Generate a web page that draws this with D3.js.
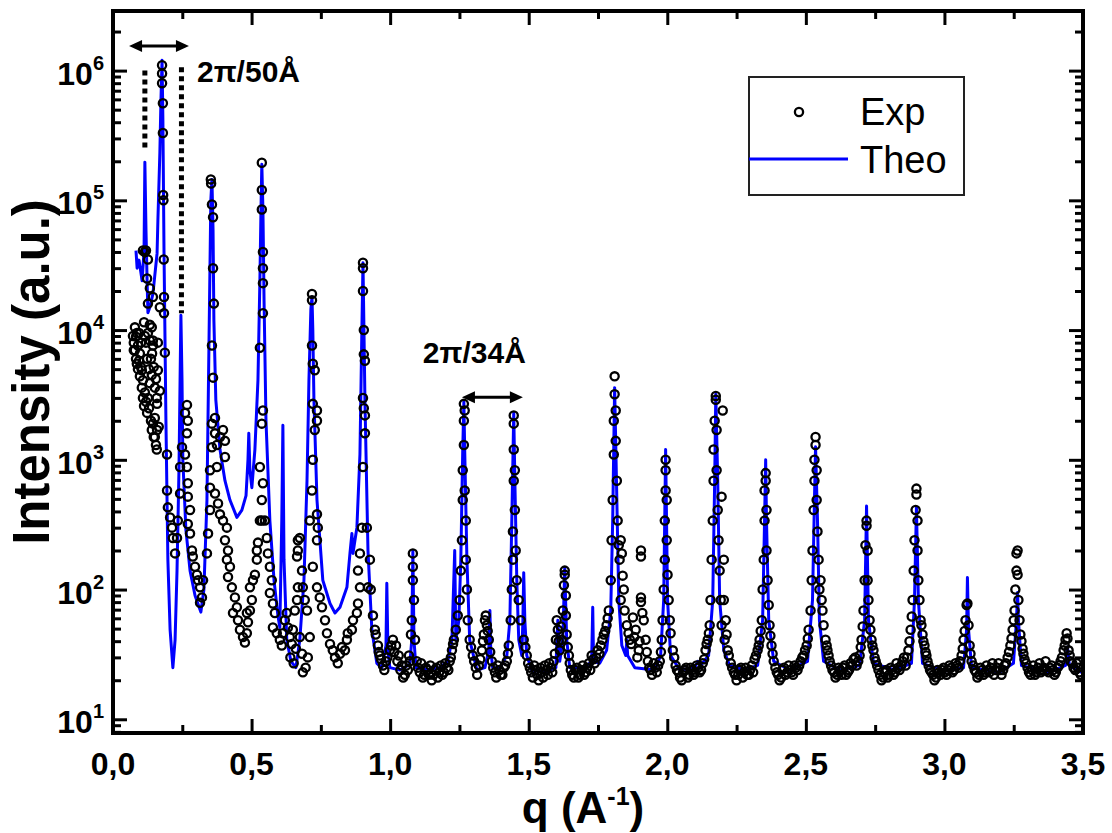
<!DOCTYPE html>
<html><head><meta charset="utf-8">
<script src="https://cdn.jsdelivr.net/npm/d3@7"></script>
<style>body{margin:0;background:#fff}svg{display:block}</style>
</head><body>
<svg id="c" width="1112" height="833"></svg>
<script>
// ---------- data ----------
const xTickValues = [0, 0.5, 1, 1.5, 2, 2.5, 3, 3.5];
const xTickLabels = ["0,0", "0,5", "1,0", "1,5", "2,0", "2,5", "3,0", "3,5"];
const xMinorTicks = [0.25, 0.75, 1.25, 1.75, 2.25, 2.75, 3.25];
const yDecadeExponents = [1, 2, 3, 4, 5, 6];
const yMinorMultipliers = [2, 3, 4, 5, 6, 7, 8, 9];
const seriesNames = ["Exp", "Theo"];
const axisTitles = { x: "q (A", xSup: "-1", xEnd: ")", y: "Intensity (a.u.)" };
const annotationTexts = ["2\u03c0/50\u00c5", "2\u03c0/34\u00c5"];

// experimental points [q, intensity]
const expData = [
[0.072,9000],[0.075,7000],[0.079,10500],[0.083,8900],[0.086,5500],[0.090,7600],[0.094,9500],[0.097,6600],[0.101,8000],[0.104,4900],[0.108,4100],[0.112,11500],
[0.133,11000],[0.144,8300],[0.133,8300],[0.144,7600],[0.162,8000],[0.141,6600],[0.162,4900],[0.133,3900],[0.151,3600],[0.169,3400],[0.159,2700],[0.151,2100],
[0.144,1900],[0.159,1700],[0.151,1500],[0.119,41000],[0.126,35000],[0.123,25000],[0.133,21000],[0.126,16000],[0.144,18000],[0.169,15000],[0.108,41000],[0.115,40000],
[0.075,8000],[0.079,7000],[0.083,6000],[0.086,9500],[0.090,5000],[0.094,5800],[0.097,4400],[0.101,5200],[0.104,3600],[0.108,3000],[0.112,2600],[0.115,3300],
[0.119,2800],[0.123,2300],[0.126,3000],[0.130,2500],[0.137,2000],[0.140,1700],[0.147,1500],[0.155,1300],[0.158,1200],[0.165,1800],[0.137,6000],[0.140,4500],
[0.147,5200],[0.155,4200],[0.158,3000],[0.130,5000],[0.123,6000],[0.119,8000],[0.115,9000],[0.126,9500],[0.140,10500],
[0.177,1100000],[0.177,950000],[0.177,800000],[0.180,560000],[0.180,330000],[0.181,110000],[0.182,100000],[0.183,35000],[0.184,18000],[0.184,13500],
[0.187,6700],[0.195,1100],[0.195,580],[0.198,430],[0.206,360],[0.213,300],[0.216,250],[0.224,190],[0.231,250],[0.234,340],[0.242,550],[0.242,880],[0.249,1250],
[0.260,2300],[0.267,2650],[0.270,2000],[0.267,1600],[0.260,1100],[0.267,880],[0.270,660],[0.270,520],[0.278,410],[0.270,320],[0.278,270],[0.285,200],[0.288,180],
[0.296,150],[0.303,130],[0.307,118],[0.314,104],[0.321,87],[0.314,79],[0.325,118],[0.339,190],[0.343,270],[0.350,410],[0.350,610],[0.350,830],[0.357,1250],
[0.357,1900],[0.361,4300],[0.357,7600],[0.353,145000],[0.354,135000],[0.357,93000],[0.361,74000],[0.361,30000],[0.364,16000],
[0.368,2100],[0.368,1600],[0.375,1300],[0.386,1500],[0.397,1700],[0.404,1400],[0.404,1050],[0.375,880],[0.368,550],[0.379,460],[0.386,380],[0.397,340],[0.411,300],
[0.404,240],[0.415,200],[0.411,170],[0.422,150],[0.415,125],[0.429,104],[0.440,87],[0.447,73],[0.433,66],[0.451,58],[0.458,49],[0.469,43],[0.476,39],[0.483,46],
[0.487,56],[0.483,66],[0.494,69],[0.501,83],[0.494,104],[0.505,118],[0.512,130],[0.519,170],[0.519,200],[0.523,230],[0.530,340],[0.537,490],
[0.530,7300],[0.541,2400],[0.537,1900],[0.530,880],[0.541,660],[0.537,340],[0.548,340],
[0.537,195000],[0.537,120000],[0.537,85000],[0.541,40000],[0.541,30000],[0.541,23000],[0.541,13500],
[0.555,250],[0.559,190],[0.566,150],[0.573,118],[0.566,94],[0.577,78],[0.584,66],[0.577,51],[0.591,46],[0.602,41],[0.609,37],[0.613,46],[0.620,58],[0.627,66],
[0.631,51],[0.638,43],[0.645,38],[0.649,49],[0.656,69],[0.664,83],[0.667,104],[0.664,180],[0.667,240],[0.674,250],[0.667,200],[0.682,140],[0.685,104],[0.692,83],
[0.700,69],[0.674,43],[0.682,32],[0.685,23],[0.703,30],[0.710,43],[0.640,30],[0.652,27],[0.695,25],[0.660,35],
[0.718,19000],[0.718,17000],[0.718,7600],[0.721,5500],[0.728,4900],[0.721,2700],[0.736,2400],[0.736,2000],[0.728,1700],[0.721,1000],[0.718,580],[0.710,340],
[0.736,380],[0.739,300],[0.736,240],[0.721,150],[0.736,104],[0.746,87],[0.754,73],[0.765,58],[0.772,46],[0.783,38],[0.793,34],[0.801,30],[0.811,27],[0.819,32],
[0.826,36],[0.837,34],[0.844,41],[0.847,46],[0.862,49],[0.866,58],[0.880,66],[0.884,78],[0.891,104],[0.884,140],[0.891,190],[0.898,300],[0.902,880],[0.909,1600],
[0.909,2200],[0.902,3000],[0.909,5800],[0.916,300],[0.920,104],
[0.902,33000],[0.902,30000],[0.902,20000],[0.905,10000],[0.905,6500],[0.905,2500],
[0.927,170],[0.930,100],[0.938,63],[0.945,49],[0.956,37],[0.963,31],[0.974,26],[0.985,28],[0.999,34],[1.010,41],[1.021,37],[1.031,31],[1.042,26],[1.053,22],
[1.064,24],[1.071,28],[1.082,190],[1.082,150],[1.082,118],[1.086,83],[1.078,58],[1.090,41],[1.096,28],[1.107,23],[1.118,21],[1.129,25],[1.140,22],[1.150,20],
[1.161,24],[1.172,21],[1.183,26],[1.194,23],[1.204,25],[1.215,28],[1.223,34],[1.230,41],[1.237,49],[1.244,63],[1.251,83],[1.255,140],[1.259,240],[1.262,490],
[1.262,830],[1.266,1300],[1.266,2000],[1.266,2700],[1.269,2400],[1.269,580],[1.273,340],[1.273,170],[1.277,100],[1.280,58],[1.287,41],[1.298,31],[1.309,25],
[1.320,26],[1.331,34],[1.338,45],[1.345,63],[1.349,53],[1.356,41],[1.367,28],[1.378,23],[1.388,26],[1.399,22],[1.410,25],[1.421,28],[1.428,37],[1.435,58],
[1.439,100],[1.443,170],[1.443,280],[1.446,690],[1.446,1200],[1.446,1900],[1.446,2200],[1.450,830],[1.450,410],[1.453,200],[1.457,118],[1.464,83],[1.471,58],
[1.482,41],[1.493,31],
[1.504,25],[1.515,21],[1.525,24],[1.536,20],[1.547,23],[1.558,26],[1.569,22],[1.580,25],[1.590,28],[1.598,41],[1.601,58],[1.605,49],[1.612,34],[1.619,41],
[1.623,69],[1.627,108],[1.630,140],[1.630,130],[1.634,90],[1.634,63],[1.637,45],[1.645,31],[1.652,24],[1.663,21],[1.674,25],[1.684,22],[1.695,26],[1.706,23],
[1.717,27],[1.727,31],[1.738,27],[1.749,34],[1.760,37],[1.771,45],[1.781,53],[1.789,69],[1.796,118],[1.799,240],[1.803,490],[1.807,1100],[1.807,2000],
[1.810,3200],[1.810,4400],[1.814,2400],[1.814,1400],[1.818,690],[1.821,340],[1.825,220],[1.828,170],[1.832,240],[1.836,190],[1.839,128],[1.843,100],[1.832,83],
[1.846,69],[1.854,53],[1.865,41],[1.876,61],[1.886,49],[1.897,34],[1.905,200],[1.905,180],[1.905,87],[1.905,80],[1.915,58],[1.922,41],[1.930,28],[1.940,24],
[1.951,27],[1.962,23],[1.973,28],[1.980,41],[1.983,58],[1.987,100],[1.991,170],[1.991,340],[1.994,580],[1.994,830],[1.994,1000],[1.998,490],[1.998,240],
[2.001,130],[2.005,83],[2.009,58],[2.012,46],[2.020,34],[2.030,26],
[2.041,23],[2.052,20],[2.063,24],[2.074,21],[2.084,25],[2.095,22],[2.106,26],[2.117,23],[2.128,27],[2.138,34],[2.146,41],[2.153,53],[2.156,83],[2.160,170],
[2.164,340],[2.167,690],[2.167,1200],[2.171,2000],[2.175,2900],[2.175,3100],[2.178,1700],[2.178,830],[2.182,410],[2.185,240],[2.189,140],[2.193,83],[2.196,520],
[2.200,2400],[2.196,53],[2.204,170],[2.204,83],[2.207,41],[2.211,58],[2.218,34],[2.229,27],[2.240,23],[2.250,20],[2.261,24],[2.272,21],[2.283,25],[2.294,22],
[2.305,26],[2.315,29],[2.326,34],[2.333,41],[2.341,58],[2.344,100],[2.348,170],[2.351,340],[2.351,580],[2.355,690],[2.355,790],[2.358,410],[2.358,200],
[2.362,118],[2.366,76],[2.369,53],[2.376,37],[2.384,28],
[2.395,23],[2.405,20],[2.416,24],[2.427,22],[2.438,26],[2.449,23],[2.459,26],[2.470,24],[2.481,28],[2.492,31],[2.503,37],[2.510,49],[2.517,69],[2.521,118],
[2.524,200],[2.528,410],[2.531,690],[2.531,1000],[2.535,1300],[2.535,1500],[2.539,830],[2.539,490],[2.542,280],[2.546,170],[2.549,100],[2.553,118],[2.557,83],
[2.560,69],[2.564,53],[2.571,41],[2.578,34],[2.586,28],[2.596,24],[2.607,21],[2.618,25],[2.629,22],[2.640,26],[2.651,23],[2.661,27],[2.672,29],[2.683,26],
[2.694,31],[2.701,41],[2.708,69],[2.712,118],[2.715,220],[2.719,310],[2.719,340],[2.723,200],[2.723,118],[2.726,83],[2.730,58],[2.733,49],[2.737,41],[2.744,34],
[2.752,28],
[2.762,24],[2.773,20],[2.784,23],[2.795,21],[2.806,25],[2.816,22],[2.827,27],[2.838,24],[2.849,28],[2.860,26],[2.870,34],[2.878,49],[2.885,83],[2.889,140],
[2.892,240],[2.896,410],[2.899,540],[2.899,600],[2.903,340],[2.903,200],[2.906,118],[2.910,83],[2.914,58],[2.917,53],[2.921,45],[2.928,37],[2.935,31],[2.943,26],
[2.953,23],[2.964,20],[2.975,24],[2.986,22],[2.997,25],[3.008,22],[3.018,26],[3.029,23],[3.040,27],[3.051,25],[3.062,31],[3.069,41],[3.076,58],[3.080,76],
[3.083,78],[3.087,53],[3.091,37],[3.098,28],[3.109,24],
[3.119,21],[3.130,25],[3.141,22],[3.152,26],[3.163,23],[3.173,27],[3.184,24],[3.195,27],[3.206,22],[3.217,26],[3.228,30],[3.238,37],[3.246,49],[3.253,69],
[3.256,100],[3.260,140],[3.260,190],[3.264,200],[3.264,130],[3.267,83],[3.271,58],[3.274,45],[3.282,35],[3.289,29],[3.300,25],[3.311,22],[3.321,26],[3.332,23],
[3.343,27],[3.354,24],[3.365,28],[3.376,23],[3.387,26],[3.397,22],[3.408,25],[3.419,28],[3.430,34],[3.437,41],[3.444,42],[3.448,34],[3.455,28],[3.466,25],
[3.477,27],[3.487,23],
// second layer of the dense background band
[0.948,45],[0.959,33],[0.967,29],[0.979,24],[0.990,30],[1.004,37],[1.015,33],[1.026,28],[1.037,24],[1.047,21],[1.058,26],[1.068,31],[1.075,45],[1.100,25],
[1.112,27],[1.123,22],[1.134,24],[1.145,26],[1.156,22],[1.167,25],[1.177,23],[1.188,22],[1.199,27],[1.210,24],[1.219,30],[1.227,38],
[1.292,36],[1.303,28],[1.314,22],[1.325,29],[1.335,40],[1.342,58],[1.352,48],[1.361,33],[1.372,25],[1.383,21],[1.394,24],[1.405,22],[1.415,26],[1.425,32],
[1.488,36],[1.498,27],[1.509,23],[1.520,26],[1.531,22],[1.542,25],[1.552,21],[1.563,24],[1.574,27],[1.585,23],[1.594,32],[1.608,40],[1.616,52],[1.641,36],
[1.648,27],[1.657,22],[1.668,24],[1.679,21],[1.690,24],[1.700,22],[1.711,25],[1.722,24],[1.733,29],[1.744,30],[1.755,32],[1.766,41],[1.776,48],[1.785,60],
[1.860,46],[1.870,38],[1.881,43],[1.892,30],[1.900,40],[1.910,66],[1.926,33],[1.935,25],[1.945,22],[1.957,25],[1.967,26],[1.977,33],
[2.025,30],[2.035,24],[2.046,21],[2.057,23],[2.068,25],[2.079,22],[2.090,24],[2.100,23],[2.111,25],[2.122,24],[2.133,29],[2.142,38],[2.150,46],
[2.214,45],[2.222,31],[2.234,25],[2.245,22],[2.256,22],[2.266,25],[2.277,23],[2.288,22],[2.299,24],[2.310,23],[2.320,31],[2.330,37],[2.337,48],
[2.372,44],[2.380,32],[2.390,25],[2.400,22],[2.411,21],[2.421,25],[2.432,23],[2.443,24],[2.454,22],[2.465,25],[2.476,26],[2.487,30],[2.497,34],[2.507,42],
[2.575,37],[2.582,31],[2.591,26],[2.602,23],[2.613,22],[2.624,24],[2.634,25],[2.645,22],[2.656,24],[2.667,26],[2.678,30],[2.689,28],[2.698,36],[2.705,52],
[2.740,37],[2.748,30],[2.757,26],[2.768,22],[2.779,21],[2.790,24],[2.800,22],[2.811,24],[2.822,23],[2.833,25],[2.844,26],[2.854,30],[2.865,30],[2.874,40],
[2.882,62],[2.924,40],[2.932,33],[2.939,28],[2.948,24],[2.959,22],[2.970,21],[2.980,23],[2.991,24],[3.002,23],[3.013,24],[3.024,25],[3.035,24],[3.046,26],
[3.056,28],[3.066,35],[3.073,48],[3.094,32],[3.104,26],[3.114,23],[3.125,22],[3.136,24],[3.146,23],[3.157,24],[3.168,25],[3.179,22],[3.190,25],[3.201,24],
[3.212,24],[3.222,27],[3.233,33],[3.242,42],[3.250,58],[3.278,40],[3.285,32],[3.295,27],[3.305,23],[3.316,24],[3.327,22],[3.338,25],[3.348,23],[3.359,25],
[3.370,24],[3.381,25],[3.392,24],[3.402,23],[3.413,26],[3.424,30],[3.434,37],[3.441,46],[3.452,31],[3.461,27],[3.472,24],[3.482,25],[3.492,22]
];

// theoretical curve [q, intensity]
const theoData = [
[0.083,41000],[0.087,30000],[0.094,34600],[0.105,24000],[0.112,41000],[0.115,197000],[0.119,59000],[0.123,24000],[0.126,13600],[0.133,15000],[0.144,19000],
[0.159,39000],[0.162,70000],[0.169,230000],[0.173,590000],[0.177,1200000],[0.180,420000],[0.184,41000],[0.191,2000],[0.198,170],[0.206,49],[0.216,25],
[0.224,41],[0.231,140],[0.238,830],[0.242,4100],[0.245,13000],[0.249,4100],[0.252,1000],[0.263,290],[0.278,140],[0.296,90],[0.317,67],[0.328,100],[0.339,490],
[0.346,7000],[0.353,100000],[0.357,145000],[0.361,59000],[0.364,12000],[0.371,2900],[0.386,1200],[0.404,690],[0.422,490],[0.447,360],[0.465,410],[0.480,530],
[0.487,1000],[0.490,1600],[0.494,830],[0.501,610],[0.512,1200],[0.523,4100],[0.530,24000],[0.534,85000],[0.537,190000],[0.541,85000],[0.545,17000],
[0.552,2000],[0.566,340],[0.581,118],[0.595,63],[0.602,51],[0.609,340],[0.613,1850],[0.617,170],[0.627,41],[0.642,28],[0.660,25],[0.674,41],[0.689,118],
[0.700,690],[0.707,4100],[0.714,14500],[0.718,18000],[0.721,10000],[0.725,2900],[0.736,490],[0.757,118],[0.783,78],[0.801,66],[0.819,73],[0.844,104],
[0.855,190],[0.862,270],[0.866,190],[0.873,240],[0.880,300],[0.891,1100],[0.898,10000],[0.902,33000],[0.905,12000],[0.909,2900],[0.920,200],[0.934,49],
[0.952,27],[0.970,25],[0.985,37],[0.988,112],[0.992,34],[0.999,25],[1.035,24],[1.071,26.5],[1.078,41],[1.082,200],[1.086,41],[1.093,25],[1.143,24],
[1.179,25],[1.208,28],[1.223,41],[1.233,200],[1.237,41],[1.248,58],[1.255,170],[1.262,1200],[1.266,2800],[1.269,1200],[1.277,170],[1.287,41],[1.313,24],
[1.342,25],[1.356,34],[1.360,69],[1.363,34],[1.370,25],[1.396,25],[1.421,31],[1.432,58],[1.439,340],[1.446,2300],[1.450,690],[1.457,118],[1.464,41],
[1.475,31],[1.479,58],[1.482,135],[1.486,58],[1.493,31],[1.511,24],[1.558,23],[1.598,25],[1.605,58],[1.612,28],[1.623,41],[1.630,146],[1.637,41],[1.648,25],
[1.702,25],[1.727,28],[1.731,73],[1.734,28],[1.756,27],[1.781,34],[1.796,69],[1.803,340],[1.810,3600],[1.818,490],[1.825,83],[1.836,37],[1.850,31],
[1.854,41],[1.857,31],[1.883,25],[1.955,24],[1.976,31],[1.987,83],[1.994,1200],[2.001,83],[2.012,31],[2.045,24],[2.099,25],[2.110,28],[2.120,26],[2.149,31],
[2.164,83],[2.171,690],[2.175,3200],[2.182,690],[2.189,83],[2.204,34],[2.225,26],[2.279,24],[2.326,26],[2.344,58],[2.351,340],[2.355,1000],[2.358,340],
[2.366,58],[2.384,28],[2.441,24],[2.506,28],[2.524,83],[2.531,490],[2.535,1260],[2.542,340],[2.549,58],[2.564,28],[2.622,24],[2.694,26],[2.712,58],
[2.719,440],[2.726,58],[2.744,27],[2.820,24],[2.881,27],[2.892,83],[2.899,430],[2.906,83],[2.921,27],[3.000,23.5],[3.069,25],[3.080,49],[3.083,124],
[3.087,49],[3.098,25],[3.199,23],[3.249,27],[3.260,58],[3.264,95],[3.267,58],[3.278,26],[3.379,23],[3.437,26],[3.444,36],[3.451,26],[3.494,23]
];

// annotation anchors in data units
const arrow50 = [[0.058, 1.55e6], [0.274, 1.55e6]];
const dots50 = [[0.115, 1.0e6, 2.44e5], [0.247, 1.06e6, 1.35e4]];
const label50 = [0.303, 8.1e5];
const arrow34 = [[1.259, 3.04e3], [1.479, 3.04e3]];
const label34 = [1.118, 5.56e3];

// ---------- drawing ----------
const FONT = "'Liberation Sans', Arial, Helvetica, sans-serif";
const svg = d3.select("#c").style("font-family", FONT);
const L = 113, R = 1083, T = 11, B = 733;
const x = d3.scaleLinear().domain([0, 3.5]).range([L, R]);
const y = d3.scaleLog().domain([7.84, 2.88e6]).range([B, T]);

svg.append("rect").attr("width", 1112).attr("height", 833).attr("fill", "#fff");

svg.append("clipPath").attr("id", "clip").append("rect")
  .attr("x", L).attr("y", T).attr("width", R - L).attr("height", B - T);

const plot = svg.append("g").attr("clip-path", "url(#clip)");

// theoretical line
plot.append("path").datum(theoData)
  .attr("fill", "none").attr("stroke", "#0000ff").attr("stroke-width", 3)
  .attr("stroke-linejoin", "round")
  .attr("d", d3.line().x(d => x(d[0])).y(d => y(d[1])));

// experimental circles
plot.append("g").selectAll("circle").data(expData).join("circle")
  .attr("cx", d => x(d[0])).attr("cy", d => y(d[1])).attr("r", 4.1)
  .attr("fill", "none").attr("stroke", "#000").attr("stroke-width", 2.3);

// ticks
const yMajor = yDecadeExponents.map(e => Math.pow(10, e));
const yMinor = [];
for (let e = 0; e <= 6; e++) yMinorMultipliers.forEach(m => { const v = m * Math.pow(10, e); if (v >= 7.84 && v <= 2.88e6) yMinor.push(v); });

function styleAxis(g) { g.select(".domain").remove(); g.selectAll(".tick line").attr("stroke", "#000").attr("stroke-width", 3); g.selectAll("text").remove(); }
svg.append("g").attr("transform", `translate(0,${B})`).call(d3.axisBottom(x).tickValues(xTickValues).tickSize(-14)).call(styleAxis);
svg.append("g").attr("transform", `translate(0,${B})`).call(d3.axisBottom(x).tickValues(xMinorTicks).tickSize(-8)).call(styleAxis);
svg.append("g").attr("transform", `translate(0,${T})`).call(d3.axisTop(x).tickValues(xTickValues).tickSize(-14)).call(styleAxis);
svg.append("g").attr("transform", `translate(0,${T})`).call(d3.axisTop(x).tickValues(xMinorTicks).tickSize(-8)).call(styleAxis);
svg.append("g").attr("transform", `translate(${L},0)`).call(d3.axisLeft(y).tickValues(yMajor).tickSize(-14)).call(styleAxis);
svg.append("g").attr("transform", `translate(${L},0)`).call(d3.axisLeft(y).tickValues(yMinor).tickSize(-8)).call(styleAxis);
svg.append("g").attr("transform", `translate(${R},0)`).call(d3.axisRight(y).tickValues(yMajor).tickSize(-14)).call(styleAxis);
svg.append("g").attr("transform", `translate(${R},0)`).call(d3.axisRight(y).tickValues(yMinor).tickSize(-8)).call(styleAxis);

// frame
svg.append("rect").attr("x", L).attr("y", T).attr("width", R - L).attr("height", B - T)
  .attr("fill", "none").attr("stroke", "#000").attr("stroke-width", 4);

// x tick labels
svg.append("g").selectAll("text").data(xTickValues).join("text")
  .attr("x", d => x(d)).attr("y", 775).attr("text-anchor", "middle")
  .attr("font-size", 32).attr("font-weight", "bold").text((d, i) => xTickLabels[i]);

// y tick labels
const yl = svg.append("g").selectAll("text").data(yDecadeExponents).join("text")
  .attr("x", 104).attr("y", d => y(Math.pow(10, d)) + 14).attr("text-anchor", "end")
  .attr("font-size", 32).attr("font-weight", "bold");
yl.append("tspan").text("10");
yl.append("tspan").attr("dy", -15).attr("font-size", 20).text(d => d);

// axis titles
const xt = svg.append("text").attr("x", 583).attr("y", 823).attr("text-anchor", "middle")
  .attr("font-size", 44).attr("font-weight", "bold");
xt.append("tspan").text(axisTitles.x);
xt.append("tspan").attr("dy", -18).attr("font-size", 25).text(axisTitles.xSup);
xt.append("tspan").attr("dy", 18).text(axisTitles.xEnd);

svg.append("text").attr("transform", "translate(49,372) rotate(-90)").attr("text-anchor", "middle")
  .attr("font-size", 51).attr("font-weight", "bold").text(axisTitles.y);

// legend
const lg = svg.append("g");
lg.append("rect").attr("x", 749).attr("y", 77).attr("width", 215).attr("height", 118)
  .attr("fill", "#fff").attr("stroke", "#222").attr("stroke-width", 2);
lg.append("circle").attr("cx", 799).attr("cy", 112).attr("r", 4.1)
  .attr("fill", "none").attr("stroke", "#000").attr("stroke-width", 2.3);
lg.append("line").attr("x1", 749).attr("x2", 848).attr("y1", 159).attr("y2", 159)
  .attr("stroke", "#0000ff").attr("stroke-width", 3);
lg.append("text").attr("x", 860).attr("y", 125).attr("font-size", 38).text(seriesNames[0]);
lg.append("text").attr("x", 860).attr("y", 173).attr("font-size", 38).text(seriesNames[1]);

// annotations
function dblArrow(p) {
  const x1 = x(p[0][0]), x2 = x(p[1][0]), yy = y(p[0][1]);
  const g = svg.append("g");
  g.append("line").attr("x1", x1 + 8).attr("x2", x2 - 8).attr("y1", yy).attr("y2", yy)
    .attr("stroke", "#000").attr("stroke-width", 3);
  g.append("path").attr("d", `M${x1},${yy}L${x1 + 13},${yy - 6}L${x1 + 13},${yy + 6}Z`).attr("fill", "#000");
  g.append("path").attr("d", `M${x2},${yy}L${x2 - 13},${yy - 6}L${x2 - 13},${yy + 6}Z`).attr("fill", "#000");
}
dblArrow(arrow50);
dblArrow(arrow34);
svg.append("g").selectAll("line").data(dots50).join("line")
  .attr("x1", d => x(d[0])).attr("x2", d => x(d[0])).attr("y1", d => y(d[1])).attr("y2", d => y(d[2]))
  .attr("stroke", "#000").attr("stroke-width", 5).attr("stroke-dasharray", "5,4");
svg.append("text").attr("x", x(label50[0])).attr("y", y(label50[1])).attr("font-size", 30)
  .attr("font-weight", "bold").text(annotationTexts[0]);
svg.append("text").attr("x", x(label34[0])).attr("y", y(label34[1])).attr("font-size", 30)
  .attr("font-weight", "bold").text(annotationTexts[1]);
</script>
</body></html>
